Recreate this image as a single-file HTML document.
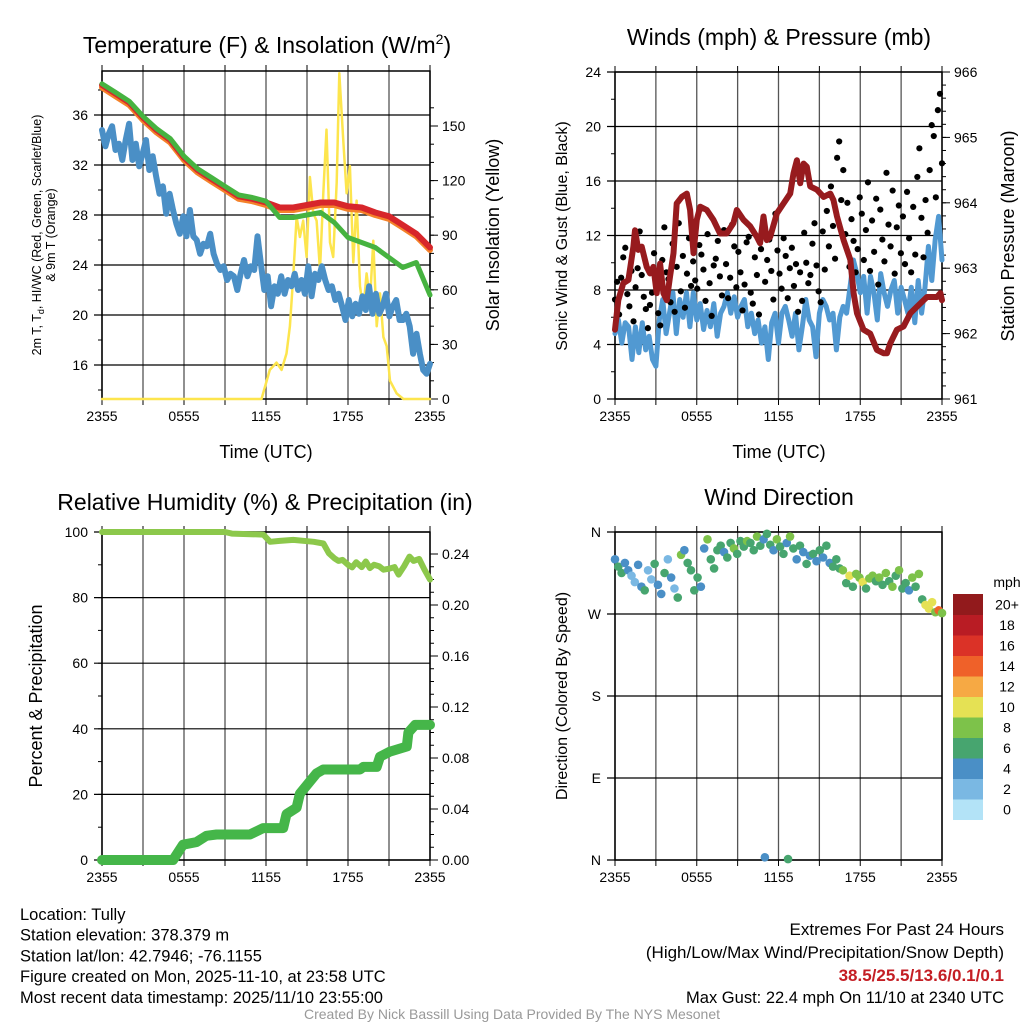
<!DOCTYPE html>
<html><head><meta charset="utf-8"><style>
body{margin:0;background:#fff}
svg{display:block;font-family:"Liberation Sans",Arial,sans-serif}
</style></head><body>
<svg id="c" width="1024" height="1024" viewBox="0 0 1024 1024"></svg>
<script>
// ---------- data ----------
const tempHours=[0,1,2,3,4,5,6,7,8,9,10,11,12,13,14,15,16,17,18,19,20,21,22,23,24];
const tempRed=[38.4,37.7,37.0,35.8,34.8,34.0,32.6,31.6,30.9,30.2,29.5,29.3,29.0,28.6,28.6,28.8,29.0,29.0,28.7,28.6,28.2,27.9,27.2,26.5,25.4];
const tempOrange=[38.2,37.5,36.8,35.6,34.6,33.8,32.4,31.4,30.7,30.0,29.3,29.1,28.8,28.4,28.4,28.6,28.8,28.8,28.5,28.4,28.0,27.7,27.0,26.3,25.2];
const tempGreen=[38.5,37.8,37.1,35.9,34.9,34.1,32.7,31.7,31.0,30.3,29.6,29.4,29.1,27.8,27.8,28.0,28.2,27.4,26.2,25.8,25.4,24.6,23.8,24.2,21.6];
const dewpoint=[34.8,33.5,34.5,35.1,33.2,33.7,32.4,34.0,35.3,32.4,33.7,31.9,32.9,34.0,31.6,32.7,31.1,29.7,30.3,28.1,29.7,28.4,27.3,26.5,27.9,26.3,28.4,26.3,26.0,24.9,25.7,25.5,26.5,24.9,24.1,23.6,23.9,22.8,23.3,23.1,22.0,23.3,24.4,23.1,23.9,23.6,26.3,24.1,22.0,23.1,20.7,22.3,21.7,23.1,21.7,22.8,22.3,23.3,22.0,22.8,21.7,23.9,21.5,23.3,22.8,23.9,22.8,22.0,22.3,21.2,21.7,20.7,19.6,21.2,19.9,20.9,20.1,21.5,20.4,22.3,20.1,21.7,20.1,20.7,21.7,19.9,20.7,21.2,19.6,19.6,20.1,19.1,16.9,18.5,16.9,15.6,15.3,16.1];
const solarHours=[0,11.67,12.28,12.77,13.14,13.50,13.75,13.99,14.24,14.48,14.72,14.97,15.21,15.46,15.70,15.95,16.19,16.43,16.68,16.92,17.17,17.36,17.66,17.90,18.14,18.39,18.63,18.88,19.12,19.36,19.61,19.85,20.10,20.34,20.59,20.83,21.07,21.56,22.05,24];
const solar=[0,0,16,20,16,25,40,67,100,89,98,78,122,102,98,71,113,148,86,78,119,179,141,113,128,75,109,62,49,69,54,87,40,58,34,29,10,3,0,0];
const windSpeed=[4.8,5.8,4.1,5.6,5.3,2.9,5.3,3.4,5.6,3.6,4.6,2.9,2.4,5.8,7.3,4.8,6.3,7.8,4.8,7.3,6.0,7.8,5.3,7.8,5.8,7.0,5.1,6.5,5.3,7.0,4.6,6.3,6.8,7.8,6.3,7.5,6.0,6.8,7.3,5.3,6.3,4.8,5.8,4.1,5.3,2.9,5.6,6.3,4.1,6.3,6.8,5.8,4.6,6.3,3.6,5.3,7.3,5.8,5.3,3.1,6.3,7.3,6.8,5.8,6.3,3.6,6.0,6.8,6.3,8.2,10.2,9.2,7.8,9.0,6.3,9.0,7.8,5.8,9.2,7.8,6.8,8.0,8.7,6.3,8.2,7.3,6.3,8.2,5.6,8.7,6.3,8.2,11.2,8.7,11.7,13.4,10.2];
const gust=[7.3,8.6,6.2,8.9,10.4,11.1,7.7,6.8,9.4,5.7,8.2,9.6,12.3,9.1,7.5,6.6,5.2,6.9,7.8,10.7,8.4,6.3,5.4,10.2,12.6,9.3,8.8,7.1,11.4,6.4,9.7,12.9,7.9,10.5,6.7,9.2,11.8,8.3,10.1,8.7,8.1,11.3,10.6,9.5,7.2,12.1,8.5,6.1,9.8,10.3,11.6,9.0,7.6,12.4,9.9,7.4,8.9,12.8,11.2,8.2,10.8,9.3,6.5,8.4,11.5,11.9,7.8,7.0,10.4,9.1,6.2,11.0,12.7,8.6,10.2,11.7,9.4,7.3,13.6,10.9,9.2,8.1,11.8,10.5,7.4,9.6,11.1,8.3,9.9,6.4,9.3,7.2,12.2,10.0,8.5,9.1,11.4,12.9,9.8,7.9,7.1,12.3,9.5,13.8,11.2,15.6,12.7,10.3,17.7,18.9,14.6,16.8,12.1,14.4,9.7,13.2,11.6,9.3,11.0,14.8,13.6,10.2,12.4,15.9,9.4,13.1,10.8,14.7,8.4,13.9,11.7,10.1,16.6,12.8,11.2,15.3,9.2,12.6,14.2,10.7,13.4,9.9,15.2,11.8,9.3,14.1,10.6,16.3,18.4,13.3,10.4,14.6,12.2,16.8,20.1,19.3,14.8,21.2,22.4,17.3];
const presHours=[0,0.24,0.61,0.98,1.35,1.47,1.71,1.96,2.33,2.57,2.82,3.06,3.31,3.55,3.80,4.04,4.29,4.53,4.90,5.27,5.51,5.76,6.00,6.25,6.74,7.22,7.71,8.20,8.69,8.94,9.43,9.92,10.41,10.65,10.90,11.14,11.39,11.88,12.37,12.86,13.10,13.35,13.59,13.84,14.08,14.33,14.82,15.31,15.80,16.04,16.29,16.78,17.27,17.51,17.76,18.24,18.73,19.22,19.71,19.96,20.20,20.69,21.18,21.67,22.16,22.90,23.63,23.88,24];
const pressure=[962.06,962.51,962.77,962.82,963.33,963.58,963.28,963.33,963.02,962.92,963.02,962.62,963.07,962.62,962.51,962.87,963.23,963.99,964.09,964.14,963.89,963.23,963.74,963.94,963.89,963.74,963.53,963.53,963.69,963.89,963.74,963.64,963.48,963.38,963.79,963.43,963.48,963.84,963.99,964.14,964.45,964.65,964.30,964.60,964.55,964.25,964.20,964.09,964.14,964.04,963.79,963.43,963.13,962.62,962.31,962.06,962.00,961.75,961.70,961.70,961.85,962.06,962.11,962.31,962.41,962.56,962.56,962.62,962.51];
const rhHours=[0,9.0,9.5,11.8,12.3,13.0,14.0,15.5,16.2,16.6,17.0,17.3,17.6,18.0,18.3,18.6,19.0,19.3,19.6,19.9,20.3,20.6,21.0,21.4,21.7,22.1,22.5,22.8,23.2,23.6,24];
const rh=[100,100,99.5,99.2,97,97.3,97.6,97,96.5,93.5,92,91.2,91.5,90,89.2,90.8,89.3,91,89,90,89.5,88.5,88.8,89.3,87,89.5,92.5,91.2,91.8,88.5,85.5];
const precipHours=[0,5.20,5.93,6.91,7.64,8.38,10.82,11.79,13.26,13.50,14.24,14.48,15.70,16.19,18.88,19.12,20.10,20.34,21.07,22.30,22.42,22.91,24];
const precip=[0,0,0.012,0.014,0.019,0.020,0.020,0.025,0.025,0.036,0.041,0.052,0.068,0.071,0.071,0.073,0.073,0.081,0.085,0.089,0.100,0.106,0.106];
const windDir=[330,322,315,326,318,312,305,324,300,296,318,308,325,302,292,315,330,310,298,288,335,340,326,318,296,310,300,342,352,330,320,340,345,338,332,348,342,336,350,344,350,348,340,355,345,352,358,346,340,352,344,336,348,355,342,330,345,338,325,334,336,328,340,332,345,326,322,330,320,318,304,312,300,314,310,305,298,309,312,306,310,302,315,306,300,312,318,298,304,296,310,300,314,286,280,276,283,272,274,271];
const dirSpeed=[4,6,6,5,4,3,2,4,5,6,3,2,6,4,5,6,3,4,2,6,8,4,6,6,7,6,5,4,8,6,6,6,7,4,6,6,8,6,7,6,8,6,6,8,7,4,6,6,4,8,6,6,4,8,6,4,6,4,6,4,6,4,6,4,6,4,6,7,6,8,6,10,6,8,8,10,6,8,8,6,8,6,8,6,8,7,8,6,6,4,8,6,9,7,10,10,11,9,14,8];
const outlierHours=[11.0,12.7];
const outlierDir=[3,1];
const outlierSpeed=[4,6];
const timeLabels=["2355","0555","1155","1755","2355"];
const tempTicks=[16,20,24,28,32,36];
const solarTicks=[0,30,60,90,120,150];
const windTicks=[0,4,8,12,16,20,24];
const presTicks=[961,962,963,964,965,966];
const rhTicks=[0,20,40,60,80,100];
const precipTicks=[0,0.04,0.08,0.12,0.16,0.20,0.24];
const dirTicks=[0,90,180,270,360];
const dirLabels=["N","E","S","W","N"];
const cbLabels=["0","2","4","6","8","10","12","14","16","18","20+"];
const cbColors=["#b3e3f7","#7ab8e3","#4a8fc6","#47a56f","#7dc24a","#e5e154","#f6a944","#ef6129","#db3227","#b91c24","#921a1c"];

// ---------- helpers ----------
const NS="http://www.w3.org/2000/svg";
const svg=document.getElementById('c');
function el(tag,attrs,parent){const e=document.createElementNS(NS,tag);for(const k in attrs)e.setAttribute(k,attrs[k]);(parent||svg).appendChild(e);return e;}
function txt(s,x,y,size,anchor,parent,extra){const t=el('text',Object.assign({x:x,y:y,'font-size':size,'text-anchor':anchor||'middle',fill:'#000'},extra||{}),parent);t.textContent=s;return t;}
const P1={x0:102,x1:430,y0:71,y1:399},P2={x0:615,x1:942,y0:72,y1:399},P3={x0:102,x1:430,y0:532,y1:860},P4={x0:615,x1:942,y0:532,y1:860};
function sx(P,h){return P.x0+h/24*(P.x1-P.x0);}
const yT=v=>365-(v-16)*12.5, yS=v=>399-v*1.82, yW=v=>399-v*13.625, yP=v=>399-(v-961)*65.4;
const yRH=v=>860-v*3.28, yPr=v=>860-v*1275, yD=v=>860-v*82/90;
function pathD(P,hours,vals,fy){return vals.map((v,i)=>(i?'L':'M')+sx(P,hours[i]).toFixed(1)+' '+fy(v).toFixed(1)).join(' ');}
function evenHours(n){const a=[];for(let i=0;i<n;i++)a.push(i*24/(n-1));return a;}

function frame(P,name,leftTicks,fyL,leftLabels,rightTicks,fyR,rightFmt,leftMinorStep,rightMinorStep){
  const g=el('g',{},svg);
  
  
  for(let i=0;i<=8;i++){const x=P.x0+i*(P.x1-P.x0)/8;
    el('line',{x1:x,y1:P.y0,x2:x,y2:P.y1,stroke:'#555','stroke-width':1.3},g);
    el('line',{x1:x,y1:P.y1,x2:x,y2:P.y1+6,stroke:'#000','stroke-width':1},g);
    el('line',{x1:x,y1:P.y0,x2:x,y2:P.y0-6,stroke:'#000','stroke-width':1},g);}
  timeLabels.forEach((s,i)=>{const t=txt(s,P.x0+i*(P.x1-P.x0)/4,P.y1+22,14,'middle',g);
    });
  leftTicks.forEach((v,i)=>{const y=fyL(v);
    el('line',{x1:P.x0-8,y1:y,x2:P.x1,y2:y,stroke:'#000','stroke-width':1.2},g);
    const t=txt(leftLabels?leftLabels[i]:String(v),P.x0-14,y+5,14,'end',g);
    });
  if(leftMinorStep){for(let v=leftTicks[0]-leftMinorStep;v<=leftTicks[leftTicks.length-1]+leftMinorStep;v+=leftMinorStep){const y=fyL(v);if(y<P.y0||y>P.y1)continue;el('line',{x1:P.x0-4,y1:y,x2:P.x0,y2:y,stroke:'#000','stroke-width':1},g);}}
  if(rightTicks){rightTicks.forEach(v=>{const y=fyR(v);
    el('line',{x1:P.x1,y1:y,x2:P.x1+8,y2:y,stroke:'#000','stroke-width':1},g);
    const t=txt(rightFmt(v),P.x1+12,y+5,14,'start',g);
    });
    for(let v=rightTicks[0];v<=rightTicks[rightTicks.length-1]+rightMinorStep;v+=rightMinorStep){const y=fyR(v);if(y<P.y0-1||y>P.y1+1)continue;el('line',{x1:P.x1,y1:y,x2:P.x1+4,y2:y,stroke:'#000','stroke-width':1},g);}}
  el('rect',{x:P.x0,y:P.y0,width:P.x1-P.x0,height:P.y1-P.y0,fill:'none',stroke:'#000','stroke-width':1.5},g);
}
function line(P,hours,vals,fy,color,w,name){const p=el('path',{d:pathD(P,hours,vals,fy),fill:'none',stroke:color,'stroke-width':w,'stroke-linejoin':'round','stroke-linecap':'round'});
  return p;}

// ---------- panel 1 ----------
frame(P1,'temperature',tempTicks,yT,null,solarTicks,yS,v=>String(v),2,10);
line(P1,solarHours,solar,yS,'#fde54d',2.5,'solar-insolation-line');
line(P1,evenHours(dewpoint.length),dewpoint,yT,'#4a8fc6',6,'dewpoint-line');
line(P1,tempHours,tempOrange,yT,'#f4822a',6,'temp-9m-line');
line(P1,tempHours,tempRed,yT,'#d7262b',6,'temp-2m-line');
line(P1,tempHours,tempGreen,yT,'#46b340',5,'heat-index-windchill-line');

// ---------- panel 2 ----------
frame(P2,'winds',windTicks,yW,null,presTicks,yP,v=>String(v),2,0.2);
line(P2,evenHours(windSpeed.length),windSpeed,yW,'#5199d2',5,'sonic-wind-line');
const gh=evenHours(gust.length);
gust.forEach((v,i)=>{const c=el('circle',{cx:sx(P2,gh[i]),cy:yW(v),r:3.1,fill:'#000'});
  
  });
line(P2,presHours,pressure,yP,'#971b1e',6,'pressure-line');

// ---------- panel 3 ----------
frame(P3,'humidity',rhTicks,yRH,null,precipTicks,yPr,v=>v.toFixed(2),10,0.01);
line(P3,rhHours,rh,yRH,'#8cc84b',6,'relative-humidity-line');
line(P3,precipHours,precip,yPr,'#45b649',10,'precipitation-line');

// ---------- panel 4 ----------
frame(P4,'wind-direction',dirTicks,yD,dirLabels,null,null,null,0,0);
function spdColor(s){return cbColors[Math.min(10,Math.floor(s/2))];}
const dh=evenHours(windDir.length);
windDir.forEach((v,i)=>{const c=el('circle',{cx:sx(P4,dh[i]),cy:yD(v),r:4.3,fill:spdColor(dirSpeed[i])});
  
  });
outlierDir.forEach((v,i)=>{const c=el('circle',{cx:sx(P4,outlierHours[i]),cy:yD(v),r:4.3,fill:spdColor(outlierSpeed[i])});
  
  });
const cb=el('g',{});


const cbTop=594,cbH=20.5;
cbColors.forEach((col,i)=>{const y=cbTop+(10-i)*cbH;el('rect',{x:953,y:y,width:30,height:cbH+0.5,fill:col},cb);
  txt(cbLabels[i],1007,y+cbH/2+5,14,'middle',cb);});
txt('mph',1007,587,14,'middle',cb);

// ---------- titles ----------
function T(s,x,y,size,name,rot,anchor,extra){const t=txt(s,x,y,size,anchor||'middle',svg,extra);if(rot)t.setAttribute('transform','rotate(-90 '+x+' '+y+')');
  return t;}
const t1=T('',267,53,23,'temperature-title');t1.innerHTML='Temperature (F) &amp; Insolation (W/m<tspan dy="-9" font-size="14">2</tspan><tspan dy="9">)</tspan>';
T('Winds (mph) & Pressure (mb)',779,45,23,'winds-title');
T('Relative Humidity (%) & Precipitation (in)',265,510,23,'humidity-title');
T('Wind Direction',779,505,23,'wind-direction-title');
T('Time (UTC)',266,458,18,'x-axis-title');
T('Time (UTC)',779,458,18,'x-axis-title');
const yl=T('',41,235,12.5,'temperature-y-axis-title',true);yl.innerHTML='2m T, T<tspan dy="3" font-size="9">d</tspan><tspan dy="-3">, HI/WC (Red, Green, Scarlet/Blue)</tspan>';
T('& 9m T (Orange)',55,235,12.5,'temperature-y-axis-title-2',true);
T('Solar Insolation (Yellow)',499,235,18,'solar-y-axis-title',true);
T('Sonic Wind & Gust (Blue, Black)',567,236,16,'wind-y-axis-title',true);
T('Station Pressure (Maroon)',1014,236,18,'pressure-y-axis-title',true);
T('Percent & Precipitation',42,696,18,'humidity-y-axis-title',true);
T('Direction (Colored By Speed)',567,696,16,'direction-y-axis-title',true);

// ---------- footer ----------
const info=["Location: Tully","Station elevation: 378.379 m","Station lat/lon: 42.7946; -76.1155","Figure created on Mon, 2025-11-10, at 23:58 UTC","Most recent data timestamp: 2025/11/10 23:55:00"];
info.forEach((s,i)=>T(s,20,920+i*20.7,16.5,'station-info-line',false,'start'));
T('Extremes For Past 24 Hours',1004,935,17,'extremes-heading',false,'end');
T('(High/Low/Max Wind/Precipitation/Snow Depth)',1004,958,17,'extremes-legend',false,'end');
T('38.5/25.5/13.6/0.1/0.1',1004,981,17,'extremes-values',false,'end',{fill:'#c41e24','font-weight':'bold'});
T('Max Gust: 22.4 mph On 11/10 at 2340 UTC',1004,1003,16.5,'max-gust',false,'end');
T('Created By Nick Bassill Using Data Provided By The NYS Mesonet',512,1019,14,'credit',false,'middle',{fill:'#999'});
</script>
</body></html>
